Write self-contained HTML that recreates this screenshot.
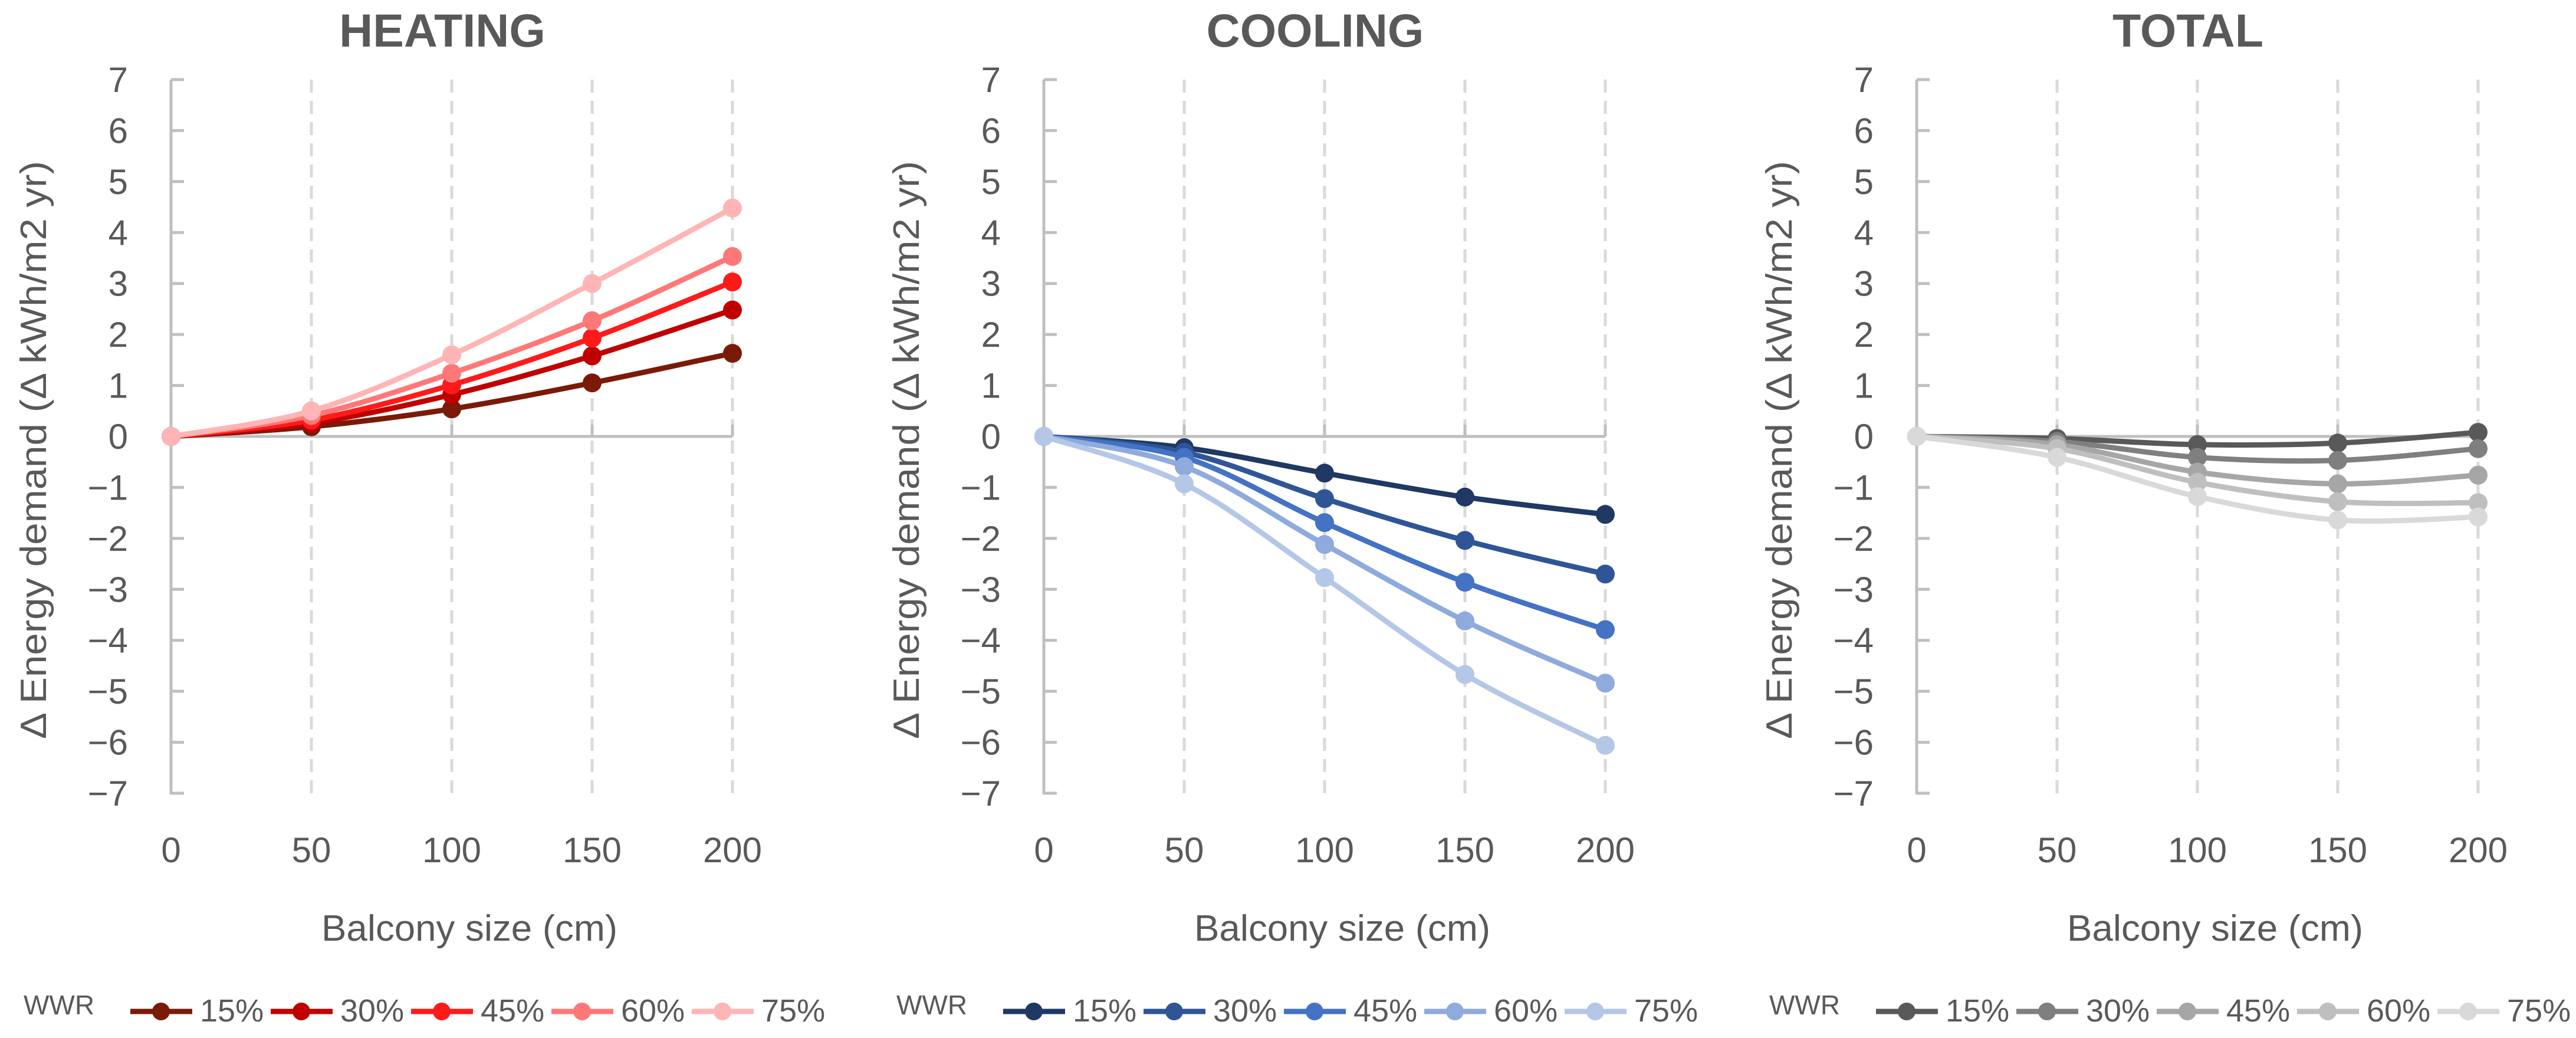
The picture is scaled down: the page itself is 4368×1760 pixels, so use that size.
<!DOCTYPE html>
<html><head><meta charset="utf-8"><style>
html,body{margin:0;padding:0;background:#fff;}
svg{display:block;font-family:"Liberation Sans",sans-serif;}
</style></head><body>
<svg id="fig" width="4368" height="1760" viewBox="0 0 4368 1760" xmlns="http://www.w3.org/2000/svg"></svg>
<script>
const categories = [0, 50, 100, 150, 200];
const seriesNames = ["15%", "30%", "45%", "60%", "75%"];
const yTicks = [7, 6, 5, 4, 3, 2, 1, 0, -1, -2, -3, -4, -5, -6, -7];
const heating15 = [0, 0.19, 0.54, 1.05, 1.63];
const heating30 = [0, 0.26, 0.82, 1.58, 2.48];
const heating45 = [0, 0.32, 1.01, 1.93, 3.03];
const heating60 = [0, 0.41, 1.24, 2.27, 3.53];
const heating75 = [0, 0.50, 1.60, 3.00, 4.48];
const cooling15 = [0, -0.22, -0.72, -1.19, -1.53];
const cooling30 = [0, -0.31, -1.22, -2.04, -2.70];
const cooling45 = [0, -0.41, -1.69, -2.86, -3.79];
const cooling60 = [0, -0.59, -2.12, -3.62, -4.84];
const cooling75 = [0, -0.93, -2.77, -4.67, -6.06];
const total15 = [0, -0.04, -0.16, -0.13, 0.08];
const total30 = [0, -0.10, -0.41, -0.47, -0.24];
const total45 = [0, -0.16, -0.70, -0.93, -0.76];
const total60 = [0, -0.24, -0.90, -1.28, -1.30];
const total75 = [0, -0.41, -1.18, -1.64, -1.58];

const NS = "http://www.w3.org/2000/svg";
const svg = document.getElementById("fig");
function mk(tag, attrs, parent) {
  const e = document.createElementNS(NS, tag);
  for (const k in attrs) e.setAttribute(k, attrs[k]);
  (parent || svg).appendChild(e);
  return e;
}
const Y0 = 740, UNIT = 86.43, CATW = 238;
function yScale(v) { return Y0 - v * UNIT; }
function smoothPath(pts) {
  let d = "M" + pts[0][0] + "," + pts[0][1];
  for (let i = 0; i < pts.length - 1; i++) {
    const p0 = pts[Math.max(0, i - 1)], p1 = pts[i], p2 = pts[i + 1], p3 = pts[Math.min(pts.length - 1, i + 2)];
    const c1x = p1[0] + (p2[0] - p0[0]) / 6, c1y = p1[1] + (p2[1] - p0[1]) / 6;
    const c2x = p2[0] - (p3[0] - p1[0]) / 6, c2y = p2[1] - (p3[1] - p1[1]) / 6;
    d += " C" + c1x + "," + c1y + " " + c2x + "," + c2y + " " + p2[0] + "," + p2[1];
  }
  return d;
}
const panels = [
  {name: "heating", title: "HEATING", x0: 290, series: [heating15, heating30, heating45, heating60, heating75],
   colors: ["#7B1A08", "#C00000", "#FF1A1A", "#FF7878", "#FFB5B5"]},
  {name: "cooling", title: "COOLING", x0: 1770, series: [cooling15, cooling30, cooling45, cooling60, cooling75],
   colors: ["#1F3864", "#2F5597", "#4472C4", "#8FAADC", "#B4C7E7"]},
  {name: "total", title: "TOTAL", x0: 3250, series: [total15, total30, total45, total60, total75],
   colors: ["#595959", "#7F7F7F", "#A6A6A6", "#BFBFBF", "#D9D9D9"]}
];
panels.forEach(function(p) {
  const g = mk("g", {});
  
  
  const xScale = function(c) { return p.x0 + (c / 50) * CATW; };
  const xEnd = xScale(categories[categories.length - 1]);
  const cx = p.x0 + 470;
  // title
  const t = mk("text", {x: cx - 10, y: 79, "text-anchor": "middle", "font-size": 79, "font-weight": "bold", fill: "#595959"}, g);
  t.textContent = p.title;
  
  
  // gridlines
  categories.forEach(function(c, i) {
    if (i === 0) return;
    const gl = mk("line", {x1: xScale(c), x2: xScale(c), y1: yScale(7), y2: yScale(-7), stroke: "#D9D9D9", "stroke-width": 5, "stroke-dasharray": "22 14"}, g);
    
    
    mk("line", {x1: xScale(c), x2: xScale(c), y1: Y0 - 20, y2: Y0, stroke: "#BFBFBF", "stroke-width": 5}, g);
  });
  // y axis
  const ya = mk("line", {x1: p.x0, x2: p.x0, y1: yScale(7), y2: yScale(-7) + 2, stroke: "#BFBFBF", "stroke-width": 5}, g);
  
  
  yTicks.forEach(function(v) {
    mk("line", {x1: p.x0, x2: p.x0 + 22, y1: yScale(v), y2: yScale(v), stroke: "#BFBFBF", "stroke-width": 5}, g);
    const lb = mk("text", {x: p.x0 - 73, y: yScale(v) + 21, "text-anchor": "end", "font-size": 60, fill: "#595959"}, g);
    lb.textContent = v < 0 ? "\u2212" + Math.abs(v) : String(v);
    
    
  });
  // x axis
  const xa = mk("line", {x1: p.x0, x2: xEnd, y1: Y0, y2: Y0, stroke: "#BFBFBF", "stroke-width": 5}, g);
  
  
  categories.forEach(function(c) {
    const lb = mk("text", {x: xScale(c), y: 1462, "text-anchor": "middle", "font-size": 60, fill: "#595959"}, g);
    lb.textContent = String(c);
    
    
  });
  // axis titles
  const yt = mk("text", {x: 0, y: 0, transform: "translate(" + (p.x0 - 212) + ",763) rotate(-90)", "text-anchor": "middle", "font-size": 62, fill: "#595959", textLength: 980, lengthAdjust: "spacingAndGlyphs"}, g);
  yt.textContent = "\u0394 Energy demand (\u0394 kWh/m2 yr)";
  
  
  const xt = mk("text", {x: p.x0 + 506, y: 1595, "text-anchor": "middle", "font-size": 62, fill: "#595959", textLength: 502, lengthAdjust: "spacingAndGlyphs"}, g);
  xt.textContent = "Balcony size (cm)";
  
  
  // series (draw lightest last? original draws 15% first)
  p.series.forEach(function(vals, si) {
    const pts = vals.map(function(v, i) { return [xScale(categories[i]), yScale(v)]; });
    const path = mk("path", {d: smoothPath(pts), fill: "none", stroke: p.colors[si], "stroke-width": 9, "stroke-linejoin": "round"}, g);
    
    
    pts.forEach(function(pt) {
      const m = mk("circle", {cx: pt[0], cy: pt[1], r: 16, fill: p.colors[si]}, g);
      
      
    });
  });
  // legend
  const lx = p.x0 - 250;
  const lg = mk("g", {}, g);
  
  
  const ww = mk("text", {x: lx, y: 1720, "font-size": 46, fill: "#595959"}, lg);
  ww.textContent = "WWR";
  
  
  seriesNames.forEach(function(nm, si) {
    const sx = lx + 181 + si * 238;
    const e = mk("g", {}, lg);
    
    
    mk("line", {x1: sx, x2: sx + 105, y1: 1715, y2: 1715, stroke: p.colors[si], "stroke-width": 9}, e);
    mk("circle", {cx: sx + 52, cy: 1715, r: 15, fill: p.colors[si]}, e);
    const tx = mk("text", {x: sx + 118, y: 1732, "font-size": 54, fill: "#595959"}, e);
    tx.textContent = nm;
  });
});
</script>
</body></html>
